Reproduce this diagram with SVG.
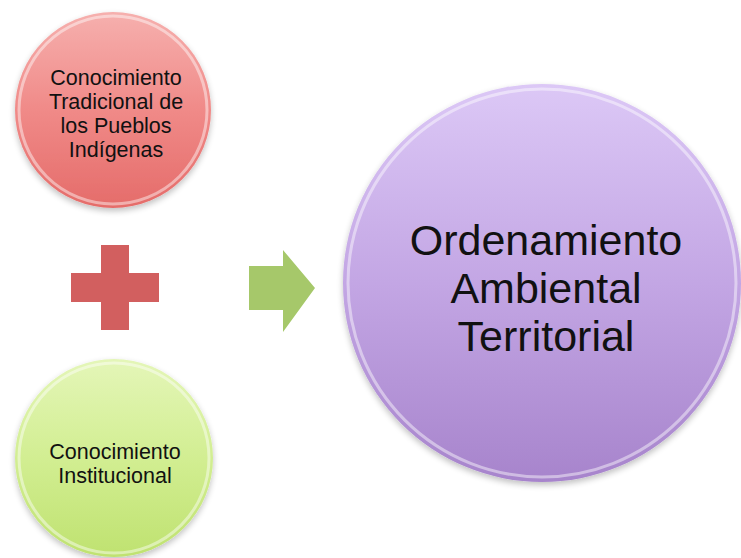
<svg xmlns="http://www.w3.org/2000/svg" width="741" height="558" viewBox="0 0 741 558">
<defs>
<linearGradient id="gRed" x1="0" y1="0" x2="0" y2="1">
<stop offset="0" stop-color="#f6b0ae"/>
<stop offset="0.5" stop-color="#f08a88"/>
<stop offset="1" stop-color="#e56c6a"/>
</linearGradient>
<linearGradient id="gGreen" x1="0" y1="0" x2="0" y2="1">
<stop offset="0" stop-color="#e4f6b8"/>
<stop offset="0.5" stop-color="#d2ee92"/>
<stop offset="1" stop-color="#bfe270"/>
</linearGradient>
<linearGradient id="gPurple" x1="0" y1="0" x2="0" y2="1">
<stop offset="0" stop-color="#dcc8f6"/>
<stop offset="0.5" stop-color="#c3a6e4"/>
<stop offset="1" stop-color="#a784cc"/>
</linearGradient>
<filter id="sh" x="-10%" y="-10%" width="120%" height="125%">
<feGaussianBlur in="SourceAlpha" stdDeviation="3"/>
<feOffset dy="3"/>
<feComponentTransfer><feFuncA type="linear" slope="0.25"/></feComponentTransfer>
<feMerge><feMergeNode/><feMergeNode in="SourceGraphic"/></feMerge>
</filter>
</defs>
<style>
.rim{fill:none;stroke:#ffffff;stroke-opacity:0.45;stroke-width:3}
.t{font-family:"Liberation Sans",Arial,sans-serif;fill:#111111;text-anchor:middle}
.s{font-size:21.5px}
.b{font-size:43px}
</style>
<rect width="741" height="558" fill="#ffffff"/>
<g id="node-red">
<circle cx="113" cy="110" r="98" fill="url(#gRed)" filter="url(#sh)"/>
<circle class="rim" cx="113" cy="110" r="94"/>
<text class="t s" x="116" y="85">Conocimiento</text>
<text class="t s" x="116" y="109">Tradicional de</text>
<text class="t s" x="116" y="133">los Pueblos</text>
<text class="t s" x="116" y="157">Indígenas</text>
</g>
<g id="node-green">
<circle cx="114" cy="458" r="99" fill="url(#gGreen)" filter="url(#sh)"/>
<circle class="rim" cx="114" cy="458" r="95"/>
<text class="t s" x="115" y="459">Conocimiento</text>
<text class="t s" x="115" y="483">Institucional</text>
</g>
<g id="node-purple">
<circle cx="542" cy="283" r="199" fill="url(#gPurple)" filter="url(#sh)"/>
<circle class="rim" cx="542" cy="283" r="194"/>
<text class="t b" x="546" y="255">Ordenamiento</text>
<text class="t b" x="546" y="303">Ambiental</text>
<text class="t b" x="546" y="351">Territorial</text>
</g>
<g id="connectors">
<path id="plus" d="M101 245 H129 V273 H159 V302 H129 V330 H101 V302 H71 V273 H101 Z" fill="#d25f5f"/>
<path id="arrow" d="M249 266 H283 V250 L315 288 L283 332 V310 H249 Z" fill="#a6c86a"/>
</g>
</svg>
